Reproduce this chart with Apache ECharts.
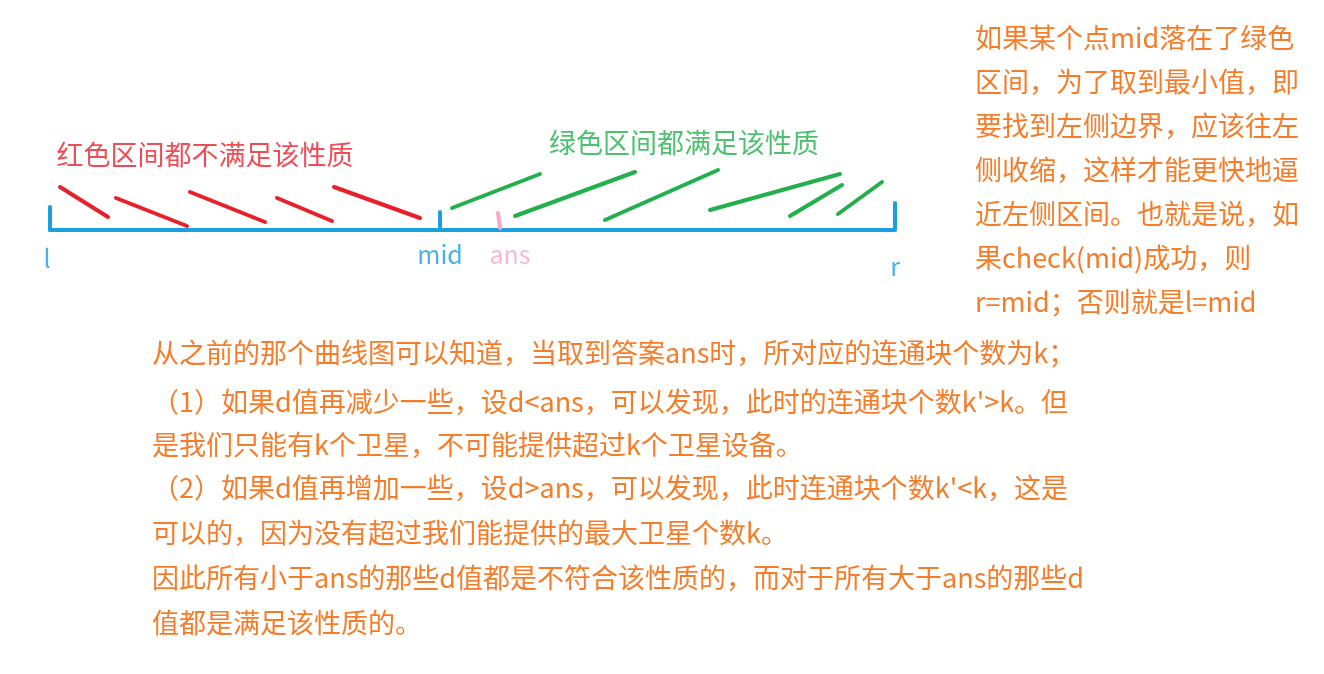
<!DOCTYPE html>
<html><head><meta charset="utf-8">
<script src="https://cdn.jsdelivr.net/npm/echarts@6/dist/echarts.min.js"></script>
<style>html,body{margin:0;background:#fff}#c{width:1324px;height:674px}</style>
</head><body><div id="c"></div>
<script>
// strokes in sketch units: [x1, y1, x2, y2]
var axisStrokes = [[50,230,895,230],[50,207,50,230],[440,212,440,230],[895,203,895,229]];
var ansStrokes = [[498,213,500,228]];
var redStrokes = [[60,187,108,217],[116,198,187,226],[190,192,265,222],[277,198,332,221],[334,187,420,218]];
var greenStrokes = [[452,208,540,174],[515,216,635,172],[605,220,718,170],[710,210,840,174],[790,216,842,185],[838,214,882,182]];
var sideLines = ['如果某个点mid落在了绿色','区间，为了取到最小值，即','要找到左侧边界，应该往左','侧收缩，这样才能更快地逼','近左侧区间。也就是说，如','果check(mid)成功，则','r=mid；否则就是l=mid'];
var bodyLines = ['从之前的那个曲线图可以知道，当取到答案ans时，所对应的连通块个数为k；',
  '（1）如果d值再减少一些，设d<ans，可以发现，此时的连通块个数k\'>k。但',
  '是我们只能有k个卫星，不可能提供超过k个卫星设备。',
  '（2）如果d值再增加一些，设d>ans，可以发现，此时连通块个数k\'<k，这是',
  '可以的，因为没有超过我们能提供的最大卫星个数k。',
  '因此所有小于ans的那些d值都是不符合该性质的，而对于所有大于ans的那些d',
  '值都是满足该性质的。'];
var labels = [['l',47,258,'#1a9fe0'],['mid',440,254,'#1a9fe0'],['ans',510,254,'#f7a8c4'],['r',895,266,'#1a9fe0'],
  ['红色区间都不满足该性质',205,155,'#e8202a'],['绿色区间都满足该性质',684,143,'#22b04c']];

function seg(list){ return list.map(function(s){ return {coords:[[s[0],s[1]],[s[2],s[3]]]}; }); }
function lineSeries(list,color,w){
  return {type:'lines',coordinateSystem:'cartesian2d',data:seg(list),
    lineStyle:{color:color,width:w,opacity:1,cap:'round'},silent:true,animation:false};
}
var texts = [];
var font = '"Noto Sans CJK SC","Microsoft YaHei",sans-serif';
sideLines.forEach(function(t,i){
  texts.push({type:'text',left:975,top:24+i*44,style:{text:t,fill:'#f57d2a',font:'27px '+font}});
});
bodyLines.forEach(function(t,i){
  texts.push({type:'text',left:152,top:[339,388,431,474,519,564,609][i],style:{text:t,fill:'#f57d2a',font:'27px '+font}});
});
var chart = echarts.init(document.getElementById('c'));
chart.setOption({
  animation:false,
  grid:{left:0,right:0,top:0,bottom:0},
  xAxis:{type:'value',min:0,max:1324,show:false},
  yAxis:{type:'value',min:0,max:674,inverse:true,show:false},
  series:[
    lineSeries(axisStrokes,'#1a9fe0',4),
    lineSeries(ansStrokes,'#f7a8c4',4),
    lineSeries(redStrokes,'#e8202a',4),
    lineSeries(greenStrokes,'#22b04c',4),
    {type:'scatter',symbolSize:0,silent:true,
     data:labels.map(function(l){ return {value:[l[1],l[2]],label:{show:true,position:'inside',formatter:l[0],color:l[3],fontSize:l[0].length>4?27:25,fontFamily:font}}; })}
  ],
  graphic:texts
});
</script></body></html>
